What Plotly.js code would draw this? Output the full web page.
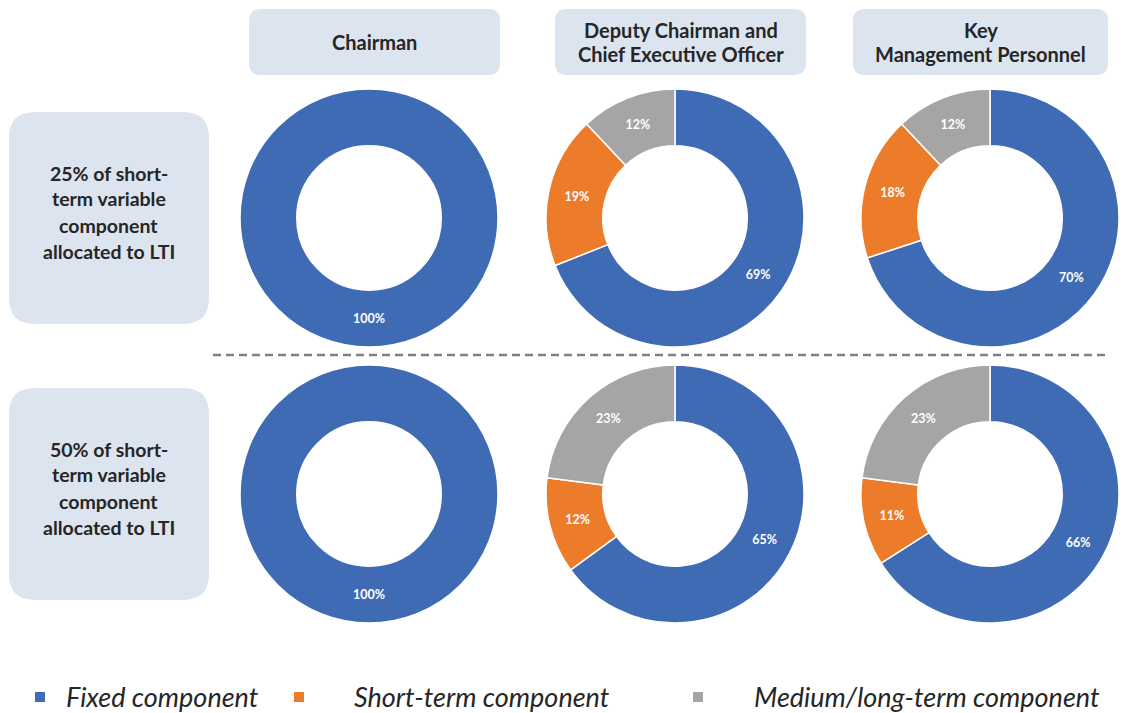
<!DOCTYPE html>
<html><head><meta charset="utf-8">
<script src="https://cdn.plot.ly/plotly-3.0.1.min.js"></script>
<style>html,body{margin:0;padding:0;background:#fff;overflow:hidden}</style>
</head><body><div id="chart" style="width:1124px;height:713px"></div>
<script>
// ---- data ----
const categories = ['Fixed component', 'Short-term component', 'Medium/long-term component'];
const colors = ['#3F6BB5', '#EC7B2A', '#A5A5A5'];
const roles = ['Chairman', 'Deputy Chairman and<br>Chief Executive Officer', 'Key<br>Management Personnel'];
const scenarios = ['25% of short-<br>term variable<br>component<br>allocated to LTI',
                   '50% of short-<br>term variable<br>component<br>allocated to LTI'];
const chairman25 = [100, 0, 0];
const deputy25   = [69, 19, 12];
const kmp25      = [70, 18, 12];
const chairman50 = [100, 0, 0];
const deputy50   = [65, 12, 23];
const kmp50      = [66, 11, 23];
const grid = [[chairman25, deputy25, kmp25], [chairman50, deputy50, kmp50]];

// ---- geometry (pixels) ----
const W = 1124, H = 713;
const X = p => p / W, Y = p => 1 - p / H;
const colCenters = [369, 675, 990];
const rowCenters = [218, 494];
const R = 129;
const headerBoxes = [[249, 500], [555, 806], [853, 1108]];
const headerY = [9, 75];
const rowBoxX = [9, 209];
const rowBoxes = [[112, 324], [388, 600]];
const FONT = 'Lato, "Open Sans", sans-serif';
const TXT = '#262626';

const traces = [];
grid.forEach((row, ri) => {
  row.forEach((vals, ci) => {
    const idx = vals.map((v, i) => i).filter(i => vals[i] > 0);
    const cx = colCenters[ci], cy = rowCenters[ri];
    traces.push({
      type: 'pie',
      values: idx.map(i => vals[i]),
      labels: idx.map(i => categories[i]),
      marker: {colors: idx.map(i => colors[i]), line: {color: '#ffffff', width: 1.5}},
      hole: 0.56,
      sort: false,
      direction: 'clockwise',
      rotation: 0,
      texttemplate: '%{value}%',
      textposition: 'inside',
      insidetextorientation: 'horizontal',
      textfont: {color: '#ffffff', size: 12.5, family: FONT, weight: 'bold'},
      showlegend: false,
      hoverinfo: 'skip',
      domain: {x: [X(cx - R), X(cx + R)], y: [Y(cy + R), Y(cy - R)]}
    });
  });
});

function rrect(x0, y0, x1, y1, r) {
  const P = (x, y) => X(x) + ',' + Y(y);
  return 'M' + P(x0 + r, y0) + ' L' + P(x1 - r, y0) + ' Q' + P(x1, y0) + ' ' + P(x1, y0 + r) +
    ' L' + P(x1, y1 - r) + ' Q' + P(x1, y1) + ' ' + P(x1 - r, y1) +
    ' L' + P(x0 + r, y1) + ' Q' + P(x0, y1) + ' ' + P(x0, y1 - r) +
    ' L' + P(x0, y0 + r) + ' Q' + P(x0, y0) + ' ' + P(x0 + r, y0) + ' Z';
}

const shapes = [];
const annotations = [];
const BOX = '#DCE4F0';
headerBoxes.forEach((b, i) => {
  shapes.push({type: 'path', xref: 'paper', yref: 'paper', path: rrect(b[0], headerY[0], b[1], headerY[1], 12),
    fillcolor: BOX, line: {width: 0}, layer: 'below'});
  const lines = roles[i].split('<br>');
  const mid = (headerY[0] + headerY[1]) / 2;
  const sp = 25;
  lines.forEach((t, k) => {
    const y = mid + (k - (lines.length - 1) / 2) * sp;
    annotations.push({xref: 'paper', yref: 'paper', x: X((b[0] + b[1]) / 2), y: Y(y), text: t, showarrow: false,
      xanchor: 'center', yanchor: 'middle', font: {family: FONT, size: 20, color: TXT, weight: 'bold'}});
  });
});
rowBoxes.forEach((b, i) => {
  shapes.push({type: 'path', xref: 'paper', yref: 'paper', path: rrect(rowBoxX[0], b[0], rowBoxX[1], b[1], 26),
    fillcolor: BOX, line: {width: 0}, layer: 'below'});
  const lines = scenarios[i].split('<br>');
  const mid = (b[0] + b[1]) / 2 - 6;
  const sp = 26;
  lines.forEach((t, k) => {
    const y = mid + (k - (lines.length - 1) / 2) * sp;
    annotations.push({xref: 'paper', yref: 'paper', x: X((rowBoxX[0] + rowBoxX[1]) / 2), y: Y(y), text: t, showarrow: false,
      xanchor: 'center', yanchor: 'middle', font: {family: FONT, size: 19.5, color: TXT, weight: 'bold'}});
  });
});
// dashed separator
shapes.push({type: 'line', xref: 'paper', yref: 'paper', x0: X(213), x1: X(1110), y0: Y(355), y1: Y(355),
  line: {color: '#808080', width: 2.5, dash: '8px,5px'}});

// legend (built from categories / colors)
const legSquareX = [40, 299, 698];
const legTextX = [64, 352, 752];
const legY = 696;
categories.forEach((c, i) => {
  shapes.push({type: 'rect', xref: 'paper', yref: 'paper', x0: X(legSquareX[i] - 5), x1: X(legSquareX[i] + 5),
    y0: Y(legY + 6), y1: Y(legY - 4), fillcolor: colors[i], line: {width: 0}});
  annotations.push({xref: 'paper', yref: 'paper', x: X(legTextX[i]), y: Y(legY), text: '<i>' + c + '</i>', showarrow: false,
    xanchor: 'left', yanchor: 'middle', font: {family: FONT, size: 27, color: TXT}});
});

Plotly.newPlot('chart', traces, {
  width: W, height: H,
  margin: {l: 0, r: 0, t: 0, b: 0},
  paper_bgcolor: '#ffffff',
  plot_bgcolor: '#ffffff',
  shapes: shapes,
  annotations: annotations,
  showlegend: false
}, {displayModeBar: false, staticPlot: true});
</script>
</body></html>
